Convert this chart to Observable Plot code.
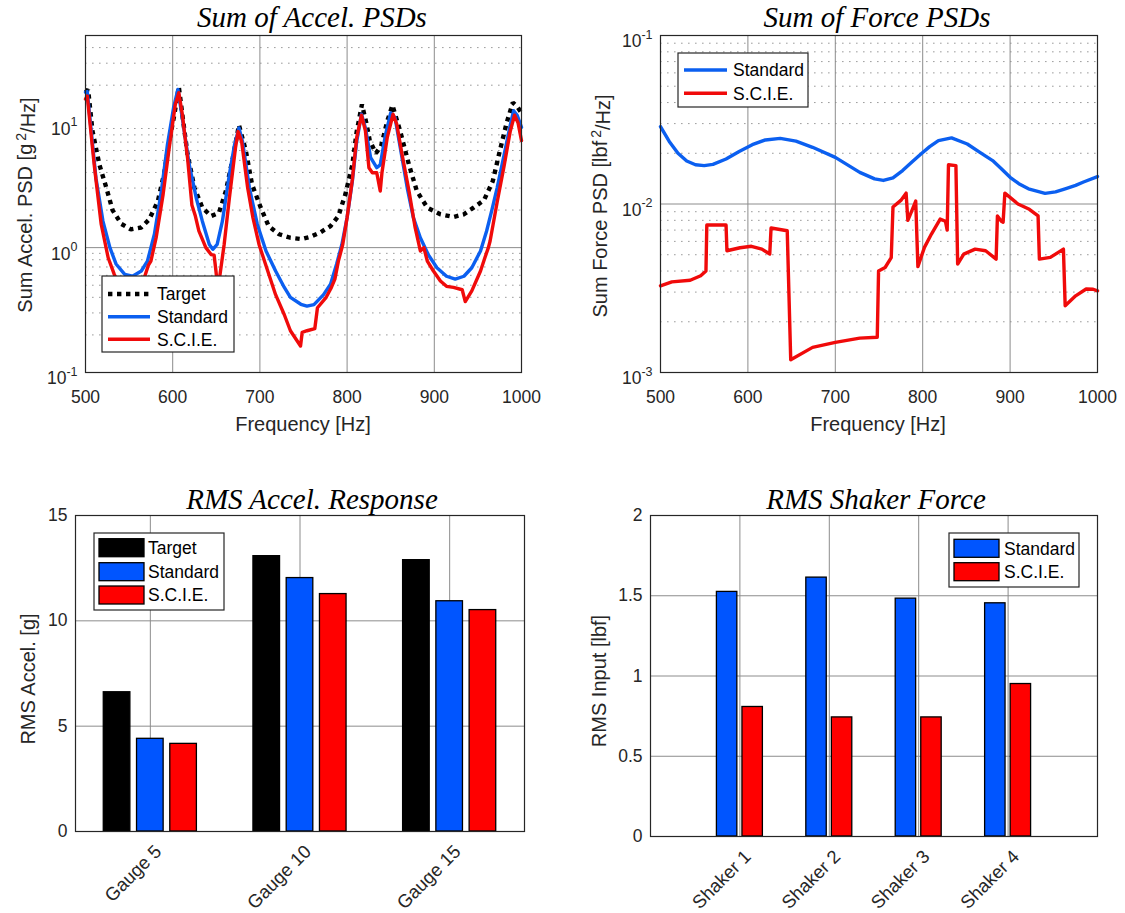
<!DOCTYPE html>
<html>
<head>
<meta charset="utf-8">
<script src="https://cdn.jsdelivr.net/npm/d3@7"></script>
<script src="https://cdn.jsdelivr.net/npm/@observablehq/plot@0.6"></script>
<style>
  body { margin: 0; background: #ffffff; }
  #page { position: relative; width: 1125px; height: 913px; overflow: hidden; background: #fff; }
  .panel { position: absolute; }
  #overlay { position: absolute; left: 0; top: 0; pointer-events: none; }
</style>
</head>
<body>
<div id="page"></div>
<script>
// ---------------- DATA ----------------
// Panel 1: Sum of Accel. PSDs  [g^2/Hz]
const accelTargetHz  = [500,503,508,516,524,531,541,552,564,573,583,590,596,602,607,611,617,625,634,644,653,661,669,676,684,691,701,710,722,735,748,758,769,781,790,798,806,811,817,822,826,833,839,846,852,861,871,880,892,907,922,934,945,957,967,975,983,990,995,1000];
const accelTargetVal = [17.5,18.5,8.6,4.6,3.0,2.0,1.55,1.40,1.45,1.68,2.36,3.86,7.1,11.7,19.5,11.7,5.6,3.0,2.09,1.79,1.9,2.84,5.25,9.6,5.9,3.2,2.09,1.49,1.28,1.2,1.17,1.22,1.32,1.49,1.79,2.67,4.6,8.5,14,10,7.2,5.7,6.5,10.3,13.8,8.5,4.6,2.84,2.09,1.85,1.76,1.85,2.09,2.4,3.4,5.9,10,14.5,13.5,12];

const accelStandardHz  = [500,502,512,520,528,535,545,554,564,571,579,587,594,601,606,611,619,627,634,642,646,651,657,665,671,676,680,688,697,707,718,728,735,747,754,762,773,781,788,794,800,806,811,816.5,821,827,834,838,844,850,855,861,869,876,884,893,903,914,924,934,943,953,960,966,972,980,987,991,995,1000];
const accelStandardVal = [17.6,17.8,3.6,1.63,1.0,0.74,0.61,0.59,0.65,0.78,1.28,2.84,6.7,13.2,18.5,10.9,4.6,2.5,1.63,1.06,0.97,1.06,1.63,3.86,6.7,9.1,7.1,3.0,1.54,0.94,0.65,0.48,0.40,0.352,0.34,0.35,0.42,0.51,0.74,1.06,1.74,3.4,7.1,11.7,9.1,5.25,4.37,4.6,8,12,11,6.3,3.0,1.74,1.2,0.88,0.69,0.59,0.56,0.59,0.69,0.94,1.36,2.0,3.0,5.5,9.5,12.5,11.5,9.2];

const accelScieHz  = [500,502,510,518,526,533,541,549,557,563,568,572,575,581,589,596,603,607,611,617,622,626,630,638,644,647.5,649.6,651,654,659,665,672,675,679,686,692,699,709,718,728,735,746.6,748.5,754,763,766,776,782,786,790,792,795,800,806,811,816.5,821,825,829,834,838,840,846,852.7,857,863,871,878,884,888,892,899,907,914,922,932,935.5,943,953,958,962,964,972,980,987,992,996,1000];
const accelScieVal = [15.5,16.4,4.6,1.54,0.83,0.61,0.48,0.43,0.45,0.52,0.59,0.72,0.78,1.2,2.67,6.3,14,17.4,11.7,5.25,2.2,1.79,1.36,1.0,0.88,0.87,0.65,0.52,0.59,1.06,2.5,6.3,8.5,7.1,3.0,1.74,1.06,0.65,0.42,0.29,0.216,0.163,0.21,0.216,0.225,0.33,0.40,0.48,0.56,0.78,0.88,1.06,1.74,3.5,7.6,11.5,8.6,4.37,3.98,3.98,2.84,4.0,7.6,11.7,9.7,5.6,2.84,1.45,0.94,1.0,0.78,0.65,0.54,0.49,0.48,0.46,0.37,0.45,0.65,0.83,1.0,1.13,2.3,4.5,8.5,11.5,10,7.2];

// Panel 2: Sum of Force PSDs  [lbf^2/Hz]
const forceStandardHz  = [500,510,520,530,540,550,560,575,590,605,620,637,655,674,700,728,745,755,766,777,788,798,808,818,833,851,865,880,890,900,910,921,940,952,963,975,984,1000];
const forceStandardVal = [0.0288,0.0235,0.0200,0.0180,0.0171,0.0169,0.0172,0.0185,0.0205,0.0225,0.0240,0.0245,0.0236,0.0217,0.0189,0.0154,0.0141,0.0138,0.0143,0.0158,0.0178,0.0198,0.0219,0.0238,0.0247,0.0227,0.0203,0.0181,0.0162,0.0144,0.0132,0.0123,0.01157,0.0118,0.0123,0.0129,0.0135,0.01454];

const forceScieHz  = [500,513,534,546,552,553,575,576,591,604,616,625,626.5,645,649,674,700,728,748,749.5,757,764,766,775,781,783,786,792,794.5,802,810,820,826,828,829.5,838,840,847,860,872,884,885.5,890,892,894,909,922,932,933.5,946,961,963,975,987,995,1000];
const forceScieVal = [0.00327,0.00345,0.00353,0.00375,0.0040,0.0075,0.0075,0.00528,0.0055,0.00561,0.0054,0.00505,0.0072,0.00694,0.00119,0.00141,0.00151,0.00160,0.00162,0.0040,0.0042,0.0048,0.0096,0.0105,0.0116,0.0080,0.0087,0.0104,0.00425,0.00553,0.00663,0.00814,0.0079,0.0070,0.0171,0.0169,0.0044,0.00504,0.0054,0.00528,0.00471,0.0085,0.0079,0.0078,0.0116,0.0100,0.0093,0.0085,0.00471,0.00482,0.0054,0.00249,0.00285,0.00313,0.00312,0.00305];

// Panel 3: RMS Accel. Response [g]
const gauges = ["Gauge 5", "Gauge 10", "Gauge 15"];
const accelTarget   = [6.61, 13.07, 12.88];
const accelStandard = [4.40, 12.03, 10.93];
const accelScie     = [4.16, 11.27, 10.51];

// Panel 4: RMS Shaker Force [lbf]
const shakers = ["Shaker 1", "Shaker 2", "Shaker 3", "Shaker 4"];
const forceStandard = [1.524, 1.613, 1.482, 1.453];
const forceScie     = [0.807, 0.742, 0.742, 0.950];

// Tick labels
const freqTicks = [500, 600, 700, 800, 900, 1000];
const accelLogTicks = [0.1, 1, 10];
const forceLogTicks = [0.001, 0.01, 0.1];
const accelBarTicks = [0, 5, 10, 15];
const forceBarTicks = [0, 0.5, 1, 1.5, 2];

// ---------------- STYLE ----------------
const SANS = "'Liberation Sans', Arial, Helvetica, sans-serif";
const SERIF = "'Liberation Serif', 'Times New Roman', serif";
const BLUE_LINE = "#0b5ff0", RED_LINE = "#f00a0a";
const BLUE_BAR = "#0055ff", RED_BAR = "#ff0000";
const GRID = "#8c8c8c", MINOR = "#9c9c9c", AXIS = "#262626";
const LW = 3.4;

const rows = (hz, val) => hz.map((f, i) => ({f, v: val[i]}));
const minorDecades = (lo, hi) => {
  const out = [];
  for (let e = lo; e < hi; e++) for (let m = 2; m <= 9; m++) out.push(m * Math.pow(10, e));
  return out;
};
const logFmt = d => "10^" + Math.round(Math.log10(d));
const plainFmt = d => String(d);

const baseStyle = {fontSize: "17.5px", fontFamily: SANS, background: "transparent", color: AXIS, overflow: "visible"};

function psdPanel(opts) {
  return Plot.plot({
    width: opts.width, height: 440,
    marginLeft: opts.ml, marginRight: opts.mr, marginTop: 35, marginBottom: 68,
    style: baseStyle,
    x: {domain: [500, 1000]},
    y: {type: "log", domain: opts.ydomain},
    marks: [
      Plot.gridY(opts.minor.filter(v => v < opts.ydomain[1]), {stroke: MINOR, strokeOpacity: 1, strokeDasharray: "1.6,5.4"}),
      Plot.gridY(opts.major.slice(1, -1).filter(v => v < opts.ydomain[1]), {stroke: GRID, strokeOpacity: 1}),
      Plot.gridX(freqTicks.slice(1, -1), {stroke: GRID, strokeOpacity: 1}),
      ...opts.lines,
      Plot.frame({stroke: AXIS, strokeWidth: 1.2}),
      Plot.axisX(freqTicks, {tickSize: 0, tickPadding: 18, tickFormat: plainFmt, label: null}),
      Plot.axisY(opts.major, {tickSize: 0, tickPadding: 8, tickFormat: logFmt, label: null})
    ]
  });
}

function barRows(cats, series) {
  const n = series.length;
  const gw = Math.min(0.8, n / (n + 1.5));
  const bw = gw / n * 0.8;
  return series.flatMap((s, j) => s.values.map((v, i) => ({
    cat: cats[i], series: s.name, v,
    lo: i + 1 + (j - (n - 1) / 2) * gw / n - bw / 2,
    hi: i + 1 + (j - (n - 1) / 2) * gw / n + bw / 2
  })));
}

function barPanel(opts) {
  const data = barRows(opts.cats, opts.series);
  return Plot.plot({
    width: opts.width, height: 463,
    marginLeft: opts.ml, marginRight: opts.mr, marginTop: 65, marginBottom: opts.mb,
    style: baseStyle,
    x: {domain: opts.xdomain},
    y: {domain: [opts.yticks[0], opts.yticks[opts.yticks.length - 1]]},
    color: {domain: opts.series.map(s => s.name), range: opts.series.map(s => s.fill)},
    marks: [
      Plot.gridY(opts.yticks.slice(1, -1), {stroke: GRID, strokeOpacity: 1}),
      Plot.gridX(opts.cats.map((c, i) => i + 1), {stroke: GRID, strokeOpacity: 1}),
      Plot.rectY(data, {x1: "lo", x2: "hi", y1: 0, y2: "v", fill: "series", stroke: "#000", strokeWidth: 1.3}),
      Plot.frame({stroke: AXIS, strokeWidth: 1.2}),
      Plot.axisX(opts.cats.map((c, i) => i + 1), {tickSize: 0, tickPadding: 17, dx: 8, tickRotate: -45, fontSize: "18.5px", tickFormat: i => opts.cats[i - 1], label: null}),
      Plot.axisY(opts.yticks, {tickSize: 0, tickPadding: 8, tickFormat: plainFmt, label: null})
    ]
  });
}

function superscriptTicks(svg) {
  const ns = "http://www.w3.org/2000/svg";
  svg.querySelectorAll("text").forEach(t => {
    const m = (t.textContent || "").match(/^10\^(-?\d+)$/);
    if (!m) return;
    t.textContent = "";
    const a = document.createElementNS(ns, "tspan");
    a.setAttribute("dy", "0.36em");
    a.textContent = "10";
    const b = document.createElementNS(ns, "tspan");
    b.setAttribute("dy", "-0.7em");
    b.setAttribute("font-size", "12.5px");
    b.textContent = m[1];
    t.appendChild(a); t.appendChild(b);
  });
}

function place(node, left, top) {
  const d = document.createElement("div");
  d.className = "panel";
  d.style.left = left + "px"; d.style.top = top + "px";
  d.appendChild(node);
  document.getElementById("page").appendChild(d);
}

// ---------------- PANELS ----------------
const tl = psdPanel({
  width: 560, ml: 85, mr: 39, ydomain: [0.1, 50],
  major: accelLogTicks, minor: minorDecades(-1, 2),
  lines: [
    Plot.line(rows(accelTargetHz, accelTargetVal), {x: "f", y: "v", stroke: "#000", strokeWidth: 4.4, strokeDasharray: "4.4,4.6", strokeLinecap: "butt", strokeLinejoin: "miter"}),
    Plot.line(rows(accelStandardHz, accelStandardVal), {x: "f", y: "v", stroke: BLUE_LINE, strokeWidth: LW}),
    Plot.line(rows(accelScieHz, accelScieVal), {x: "f", y: "v", stroke: RED_LINE, strokeWidth: LW})
  ]
});
superscriptTicks(tl);
place(tl, 0, 0);

const tr = psdPanel({
  width: 565, ml: 100, mr: 28, ydomain: [0.001, 0.1],
  major: forceLogTicks, minor: minorDecades(-3, -1),
  lines: [
    Plot.line(rows(forceStandardHz, forceStandardVal), {x: "f", y: "v", stroke: BLUE_LINE, strokeWidth: LW}),
    Plot.line(rows(forceScieHz, forceScieVal), {x: "f", y: "v", stroke: RED_LINE, strokeWidth: LW})
  ]
});
superscriptTicks(tr);
place(tr, 560, 0);

const bl = barPanel({
  width: 560, ml: 75, mr: 36, mb: 82, xdomain: [0.5, 3.5], yticks: accelBarTicks, cats: gauges,
  series: [
    {name: "Target", values: accelTarget, fill: "#000000"},
    {name: "Standard", values: accelStandard, fill: BLUE_BAR},
    {name: "S.C.I.E.", values: accelScie, fill: RED_BAR}
  ]
});
place(bl, 0, 450);

const br = barPanel({
  width: 565, ml: 90, mr: 28, mb: 77, xdomain: [0, 5], yticks: forceBarTicks, cats: shakers,
  series: [
    {name: "Standard", values: forceStandard, fill: BLUE_BAR},
    {name: "S.C.I.E.", values: forceScie, fill: RED_BAR}
  ]
});
place(br, 560, 450);

// ---------------- TITLES, AXIS LABELS, LEGENDS ----------------
const ov = d3.create("svg").attr("id", "overlay").attr("width", 1125).attr("height", 913)
  .attr("font-family", SANS);

const titles = [
  {t: "Sum of Accel. PSDs", x: 312, y: 27},
  {t: "Sum of Force PSDs", x: 877, y: 27},
  {t: "RMS Accel. Response", x: 312, y: 509},
  {t: "RMS Shaker Force", x: 876, y: 509}
];
ov.selectAll("text.title").data(titles).join("text").attr("class", "title")
  .attr("x", d => d.x).attr("y", d => d.y).attr("text-anchor", "middle")
  .attr("font-family", SERIF).attr("font-style", "italic").attr("font-size", 29).attr("fill", "#000")
  .text(d => d.t);

[{x: 303, y: 431}, {x: 878, y: 431}].forEach(p => {
  ov.append("text").attr("x", p.x).attr("y", p.y).attr("text-anchor", "middle")
    .attr("font-size", 20).attr("fill", AXIS).text("Frequency [Hz]");
});

function yLabel(x, y, parts) {
  const t = ov.append("text").attr("transform", `translate(${x},${y}) rotate(-90)`)
    .attr("text-anchor", "middle").attr("dy", "0.35em").attr("font-size", 20).attr("fill", AXIS);
  parts.forEach(p => {
    const s = t.append("tspan").text(p.text);
    if (p.sup) s.attr("dy", "-0.45em").attr("font-size", 14).attr("dx", 3);
    if (p.after) s.attr("dy", "0.45em");
  });
}
yLabel(25, 205, [{text: "Sum Accel. PSD [g"}, {text: "2", sup: true}, {text: "/Hz]", after: true}]);
yLabel(600, 206, [{text: "Sum Force PSD [lbf"}, {text: "2", sup: true}, {text: "/Hz]", after: true}]);
yLabel(28, 679, [{text: "RMS Accel. [g]"}]);
yLabel(599, 681, [{text: "RMS Input [lbf]"}]);

function legendBox(box, items) {
  const g = ov.append("g");
  g.append("rect").attr("x", box.x0).attr("y", box.y0).attr("width", box.x1 - box.x0).attr("height", box.y1 - box.y0)
    .attr("fill", "#fff").attr("stroke", AXIS).attr("stroke-width", 1.2);
  items.forEach((it, i) => {
    const y = box.rows[i];
    if (it.kind === "rect") {
      g.append("rect").attr("x", box.s0).attr("y", y - 9).attr("width", box.s1 - box.s0).attr("height", 18)
        .attr("fill", it.color).attr("stroke", "#000").attr("stroke-width", 1.3);
    } else {
      g.append("line").attr("x1", box.s0).attr("x2", box.s1).attr("y1", y).attr("y2", y)
        .attr("stroke", it.color).attr("stroke-width", it.dash ? 4.4 : LW)
        .attr("stroke-dasharray", it.dash || null);
    }
    g.append("text").attr("x", box.tx).attr("y", y).attr("dy", "0.36em").attr("font-size", 17.5).attr("fill", "#000").text(it.label);
  });
}
legendBox({x0: 102, y0: 276, x1: 234, y1: 352, rows: [294, 316.7, 339.3], s0: 108, s1: 150, tx: 157},
  [{label: "Target", color: "#000", dash: "4.4,4.6"}, {label: "Standard", color: BLUE_LINE}, {label: "S.C.I.E.", color: RED_LINE}]);
legendBox({x0: 678, y0: 53, x1: 808, y1: 107, rows: [70, 93.3], s0: 684, s1: 727, tx: 733},
  [{label: "Standard", color: BLUE_LINE}, {label: "S.C.I.E.", color: RED_LINE}]);
legendBox({x0: 94, y0: 533, x1: 224, y1: 610, rows: [547.7, 571.7, 595], s0: 99, s1: 144, tx: 148},
  [{label: "Target", color: "#000", kind: "rect"}, {label: "Standard", color: BLUE_BAR, kind: "rect"}, {label: "S.C.I.E.", color: RED_BAR, kind: "rect"}]);
legendBox({x0: 949, y0: 533, x1: 1079, y1: 587, rows: [548.3, 571.7], s0: 954, s1: 999, tx: 1004},
  [{label: "Standard", color: BLUE_BAR, kind: "rect"}, {label: "S.C.I.E.", color: RED_BAR, kind: "rect"}]);

document.getElementById("page").appendChild(ov.node());
</script>
</body>
</html>
